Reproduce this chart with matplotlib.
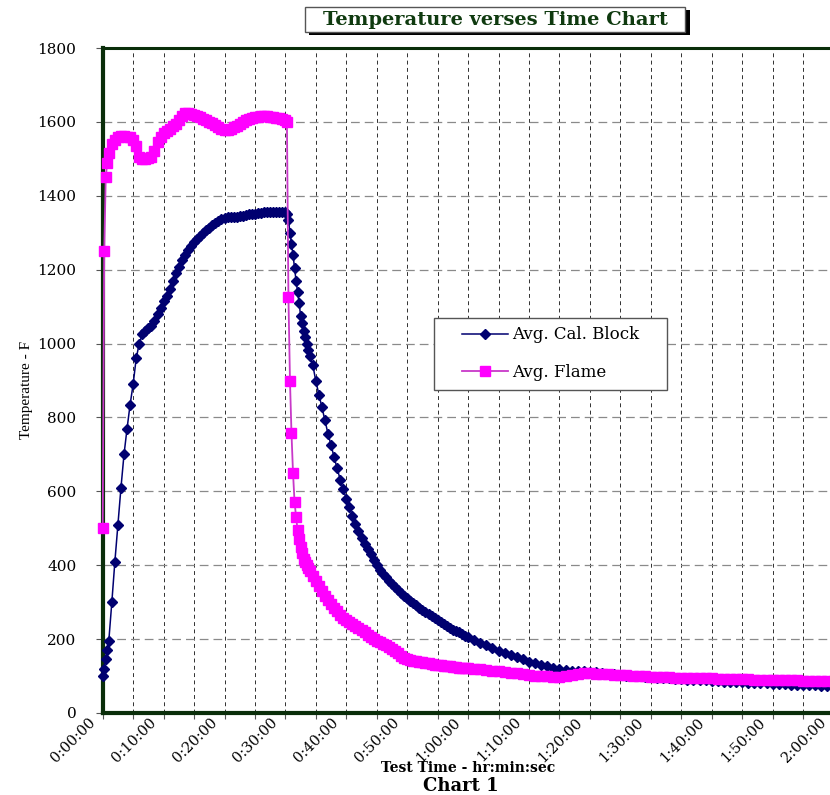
import numpy as np
import matplotlib
matplotlib.use("Agg")
import matplotlib.pyplot as plt
from matplotlib.path import Path
from matplotlib.patches import Rectangle
from matplotlib.ticker import MultipleLocator, FuncFormatter
from matplotlib.transforms import ScaledTranslation

# sample times in minutes: every 30 s up to 1 h, then every minute
minutes_fine = np.arange(0, 60, 0.5)
minutes_coarse = np.arange(60, 123, 1.0)
# a few extra 15 s readings where the curves move fast
minutes_extra = [0.25, 0.75, 30.25, 30.75, 31.25, 31.75, 32.25, 32.75, 33.25, 33.75]

cal_block_fine = [
    100, 145, 195, 300, 410, 510, 610, 700, 770, 835,
    890, 960, 1000, 1025, 1035, 1042, 1048, 1060, 1080, 1095,
    1115, 1130, 1148, 1168, 1190, 1208, 1225, 1240, 1252, 1264,
    1275, 1284, 1292, 1300, 1307, 1314, 1320, 1326, 1332, 1337,
    1340, 1342, 1343, 1342, 1342, 1344, 1346, 1348, 1350, 1351,
    1352, 1353, 1354, 1355, 1355, 1356, 1357, 1357, 1357, 1357,
    1356, 1335, 1270, 1205, 1140, 1075, 1035, 1000, 965, 942,
    898, 862, 827, 792, 755, 725, 692, 662, 632, 605,
    580, 557, 534, 512, 492, 473, 457, 443, 430, 415,
    400, 387, 377, 367, 357, 348, 340, 332, 325, 317,
    310, 303, 297, 291, 285, 279, 273, 267, 262, 256,
    251, 246, 241, 236, 231, 226, 222, 218, 213, 209,
]
cal_block_coarse = [
    205, 197, 190, 183, 176, 169, 163, 157, 151, 145,
    139, 135, 130, 126, 122, 119, 117, 115, 114, 113,
    112, 110, 108, 106, 105, 103, 101, 100, 99, 98,
    97, 96, 95, 94, 93, 91, 90, 89, 88, 88,
    87, 86, 85, 85, 84, 83, 82, 81, 80, 80,
    79, 78, 78, 77, 77, 76, 75, 75, 74, 73,
    73, 72, 72,
]
cal_block_extra = [120, 170, 1352, 1300, 1240, 1170, 1110, 1055, 1018, 983]

flame_fine = [
    500, 1450, 1515, 1540, 1552, 1560, 1562, 1562, 1560, 1558,
    1550, 1535, 1505, 1500, 1500, 1502, 1505, 1520, 1545, 1560,
    1570, 1575, 1580, 1588, 1595, 1605, 1615, 1625, 1625, 1622,
    1618, 1615, 1612, 1608, 1605, 1600, 1598, 1592, 1585, 1580,
    1578, 1578, 1580, 1585, 1590, 1595, 1600, 1605, 1608, 1610,
    1612, 1614, 1615, 1615, 1615, 1613, 1612, 1610, 1610, 1608,
    1605, 1125, 757, 572, 495, 450, 418, 400, 385, 372,
    358, 343, 330, 317, 305, 295, 285, 275, 265, 258,
    252, 247, 242, 236, 230, 224, 218, 212, 207, 201,
    195, 191, 188, 183, 178, 173, 168, 162, 155, 150,
    145, 143, 142, 140, 139, 137, 136, 134, 133, 131,
    130, 129, 128, 127, 126, 125, 124, 123, 122, 121,
]
flame_coarse = [
    121, 119, 118, 116, 115, 113, 111, 109, 107, 105,
    103, 101, 100, 99, 98, 98, 100, 104, 106, 107,
    107, 106, 106, 105, 104, 103, 102, 101, 100, 99,
    98, 98, 97, 97, 96, 96, 95, 95, 95, 94,
    94, 93, 93, 92, 92, 91, 91, 90, 90, 89,
    89, 89, 88, 88, 88, 87, 87, 87, 86, 86,
    86, 86, 85,
]
flame_extra = [1250, 1490, 1600, 900, 650, 531, 470, 432, 408, 392]

t = np.concatenate([minutes_fine, minutes_coarse, minutes_extra])
order = np.argsort(t, kind="stable")
t = t[order]
cal_block = np.concatenate([cal_block_fine, cal_block_coarse, cal_block_extra])[order]
flame = np.concatenate([flame_fine, flame_coarse, flame_extra])[order]

navy = "#000070"
magenta = "#FF00FF"
green = "#0a2e0a"

plt.rcParams["font.family"] = "DejaVu Serif"

W, H = 830, 795
fig = plt.figure(figsize=(W / 100, H / 100), dpi=100)
ax = fig.add_axes([102.7 / W, 1 - 713 / H, 125 * 6.09 / W, 665 / H])

ax.plot(t, cal_block, color=navy, lw=1.1, marker="D", ms=5.2, mfc=navy, mec=navy,
        label="Avg. Cal. Block", zorder=3, clip_on=False)
ax.plot(t, flame, color="#C838C8", lw=1.3, marker="s", ms=7, mfc=magenta, mec=magenta,
        label="Avg. Flame", zorder=4, clip_on=False)

ax.set_xlim(0, 125)
ax.set_ylim(0, 1800)
ax.yaxis.set_major_locator(MultipleLocator(200))
ax.xaxis.set_major_locator(MultipleLocator(10))
ax.xaxis.set_minor_locator(MultipleLocator(5))
ax.xaxis.set_major_formatter(FuncFormatter(
    lambda m, pos: f"{int(m // 60)}:{int(round(m % 60)):02d}:00"))

ax.set_axisbelow(True)
ax.grid(axis="y", which="major", color="#8a8a8a", ls=(0, (7, 4)), lw=0.9)
ax.grid(axis="x", which="both", color="#303030", ls=(0, (4, 3.5)), lw=0.7)

for side in ["left", "bottom"]:
    ax.spines[side].set_color(green)
    ax.spines[side].set_linewidth(3)
ax.spines["top"].set_color(green)
ax.spines["top"].set_linewidth(2.2)
ax.spines["right"].set_visible(False)

ax.tick_params(axis="y", which="major", direction="out", length=5, width=0.8,
               color="#555555", labelsize=11, pad=14)
ax.tick_params(axis="x", which="both", direction="out", length=4, width=0.8,
               color="#555555")
ax.tick_params(axis="x", which="major", labelsize=10.5, pad=1)
shift = ScaledTranslation(-7 / 72, 0, fig.dpi_scale_trans)
for lab in ax.get_xticklabels():
    lab.set_rotation(45)
    lab.set_ha("right")
    lab.set_va("center")
    lab.set_rotation_mode("anchor")
    lab.set_transform(lab.get_transform() + shift)

ax.set_ylabel("Temperature - F", fontfamily="Liberation Serif", fontsize=11)
ax.yaxis.set_label_coords((33 - 102.7) / 761, (713 - 390) / 665)
ax.set_xlabel("Test Time - hr:min:sec", fontsize=10, fontweight="bold")
ax.xaxis.set_label_coords((468 - 102.7) / 761, -(761 - 713) / 665)

fig.text(461 / W, 1 - 786 / H, "Chart 1", fontsize=13, fontweight="bold",
         ha="center", va="center")

# boxed title with drop shadow
fig.add_artist(Rectangle((309 / W, 1 - 35 / H), 381 / W, 25 / H,
                         transform=fig.transFigure, fc="black", ec="none"))
fig.add_artist(Rectangle((305 / W, 1 - 32 / H), 380 / W, 25 / H,
                         transform=fig.transFigure, fc="white", ec="#555555", lw=1))
fig.text(495 / W, 1 - 20 / H, "Temperature verses Time Chart", fontsize=14,
         fontweight="bold", color="#0f3a0f", ha="center", va="center")


def wide_frame(x0, y0, width, height, mutation_size):
    padx = 1.17 * mutation_size
    return Path([(x0 - padx, y0), (x0 + width + padx, y0),
                 (x0 + width + padx, y0 + height), (x0 - padx, y0 + height),
                 (x0 - padx, y0)], closed=True)


leg = ax.legend(loc="upper left", bbox_to_anchor=(453.5 / W, 1 - 318 / H),
                bbox_transform=fig.transFigure, borderaxespad=0, fontsize=12,
                handlelength=2.75, handletextpad=0.25, borderpad=0.5,
                labelspacing=1.25, fancybox=False, framealpha=1,
                edgecolor="#555555")
leg.get_frame().set_boxstyle(wide_frame)
leg.get_frame().set_linewidth(1)

fig.savefig("out.png", dpi=100)
